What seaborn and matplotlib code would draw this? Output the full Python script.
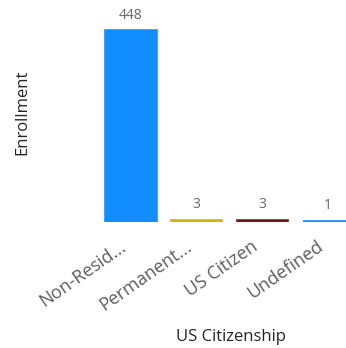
import pandas as pd
import numpy as np
from matplotlib import pyplot as plt
from matplotlib import transforms
import seaborn as sns

# data
categories = ["Non-Resid...", "Permanent...", "US Citizen", "Undefined"]
enrollment = [448, 3, 3, 1]
bar_colors = ["#118DFF", "#D9B300", "#6B1A1F", "#118DFF"]

df = pd.DataFrame({"US Citizenship": categories, "Enrollment": enrollment})

sns.set_style("white")
plt.rcParams["font.family"] = ["Open Sans", "DejaVu Sans"]

fig = plt.figure(figsize=(3.46, 3.48), dpi=100)
# right edge runs past the figure, as in the cropped reference
ax = fig.add_axes([98 / 346, 1 - 222 / 348, 263 / 346, 212 / 348])

sns.barplot(
    data=df,
    x="US Citizenship",
    y="Enrollment",
    hue="US Citizenship",
    palette=bar_colors,
    saturation=1,
    legend=False,
    width=0.75,
    ax=ax,
)

# keep the tiny bars visible as thin strips
for patch, col in zip(ax.patches, bar_colors):
    patch.set_edgecolor(col)
    patch.set_linewidth(2.6)

for cont in ax.containers:
    ax.bar_label(cont, padding=6, fontsize=10, color="#666666")

ax.set_xlim(-0.5, 3.5)
ax.set_ylim(0, 448 * 212 / 191)
ax.set_yticks([])
sns.despine(ax=ax, left=True, bottom=True)

ax.tick_params(axis="x", length=0, pad=11)
shift = transforms.ScaledTranslation(-12 / 100, 0, fig.dpi_scale_trans)
for lbl in ax.get_xticklabels():
    lbl.set_rotation(35)
    lbl.set_ha("right")
    lbl.set_rotation_mode("anchor")
    lbl.set_fontsize(13)
    lbl.set_color("#605E5C")
    lbl.set_transform(lbl.get_transform() + shift)

ax.set_xlabel("US Citizenship", fontsize=12, color="#252423")
ax.xaxis.set_label_coords((231 - 98) / 263, -(329 - 222) / 212)
ax.set_ylabel("Enrollment", fontsize=12, color="#252423")
ax.yaxis.set_label_coords(-(98 - 30) / 263, (222 - 112) / 212)

fig.savefig("out.png", dpi=100)
